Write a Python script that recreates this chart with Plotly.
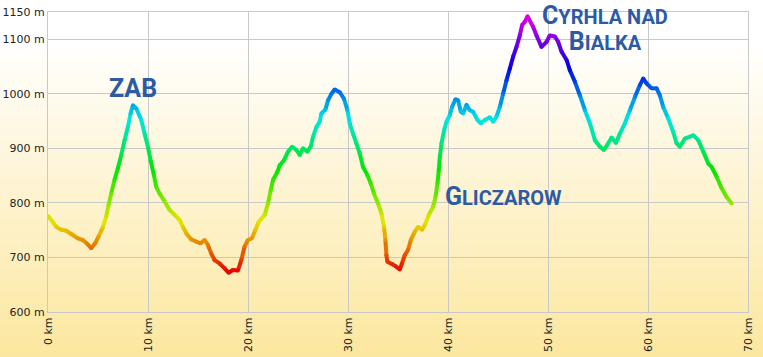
import base64, struct, zlib, colorsys
import plotly.graph_objects as go

# ---------------- data ----------------
dist_km = [0.0, 0.48, 0.82, 1.32, 1.82, 2.32, 2.98, 3.48, 3.92, 4.32, 4.72, 5.05, 5.48, 5.82,
           6.05, 6.32, 6.65, 6.98, 7.33, 7.66, 7.99, 8.26, 8.49, 8.83, 9.33, 9.66, 9.99, 10.26,
           10.59, 10.83, 11.16, 11.59, 12.16, 12.66, 13.16, 13.49, 13.83, 14.33, 14.83, 15.26,
           15.66, 15.99, 16.33, 16.66, 17.16, 17.66, 18.06, 18.49, 18.99, 19.33, 19.66, 19.99,
           20.39, 20.73, 21.06, 21.67, 22.00, 22.27, 22.50, 22.94, 23.17, 23.60, 24.00, 24.40,
           24.84, 25.17, 25.50, 25.94, 26.27, 26.50, 26.84, 27.17, 27.34, 27.74, 28.00, 28.34,
           28.67, 29.17, 29.60, 29.94, 30.17, 30.50, 30.84, 31.17, 31.50, 31.94, 32.27, 32.60,
           33.00, 33.34, 33.60, 33.74, 33.84, 33.94, 34.40, 34.84, 35.17, 35.40, 35.67, 36.01,
           36.28, 36.68, 37.01, 37.41, 37.75, 38.08, 38.51, 38.75, 38.95, 39.08, 39.18, 39.35,
           39.61, 39.85, 40.18, 40.41, 40.75, 41.01, 41.28, 41.51, 41.85, 42.18, 42.51, 42.95,
           43.28, 43.68, 44.18, 44.51, 44.85, 45.18, 45.51, 45.85, 46.18, 46.51, 46.85, 47.18,
           47.41, 47.68, 47.95, 48.51, 48.85, 49.35, 49.85, 50.18, 50.69, 51.02, 51.36, 51.86,
           52.19, 52.69, 53.19, 53.69, 54.19, 54.69, 55.19, 55.59, 55.92, 56.36, 56.79, 57.19,
           57.69, 58.19, 58.69, 59.19, 59.52, 59.86, 60.36, 60.86, 61.19, 61.52, 62.02, 62.52,
           62.86, 63.19, 63.69, 64.52, 65.03, 65.53, 66.03, 66.36, 66.86, 67.36, 67.86, 68.36]
elev_m = [776, 765, 756, 751, 749, 743, 735, 732, 725, 717, 726, 738, 755, 775,
          796, 817, 842, 863, 888, 915, 939, 964, 979, 973, 952, 927, 903, 878,
          851, 829, 817, 805, 787, 778, 769, 756, 744, 733, 729, 726,
          732, 723, 707, 695, 689, 680, 672, 677, 676, 695, 720, 732,
          735, 750, 765, 778, 799, 823, 842, 857, 869, 878, 894, 903,
          897, 888, 900, 894, 903, 921, 939, 949, 964, 971, 988, 1000,
          1008, 1003, 991, 970, 946, 927, 909, 891, 866, 851, 836, 817,
          799, 781, 756, 732, 704, 692, 688, 683, 678, 689, 704, 714,
          732, 747, 756, 751, 762, 778, 793, 811, 836, 860, 884, 909,
          933, 949, 961, 976, 990, 988, 967, 964, 980, 970, 967, 952,
          946, 952, 957, 949, 958, 976, 1000, 1025, 1046, 1068, 1086, 1107,
          1126, 1132, 1142, 1123, 1107, 1086, 1095, 1107, 1105, 1095, 1077, 1062,
          1043, 1022, 997, 970, 946, 915, 903, 897, 906, 920, 910, 927,
          946, 970, 994, 1016, 1028, 1019, 1010, 1010, 997, 976, 955, 930,
          909, 903, 918, 924, 915, 894, 872, 866, 848, 827, 811, 799]

x_ticks = [0, 10, 20, 30, 40, 50, 60, 70]
x_labels = ["0 km", "10 km", "20 km", "30 km", "40 km", "50 km", "60 km", "70 km"]
y_ticks = [600, 700, 800, 900, 1000, 1100, 1150]
y_labels = ["600 m", "700 m", "800 m", "900 m", "1000 m", "1100 m", "1150 m"]

place_names = ["ZAB", "GLICZAROW", "CYRHLA NAD|BIALKA"]
place_km = [8.45, 45.5, 55.7]
place_m = [1009, 812, 1119]

# ---------------- helpers ----------------
EMIN, EMAX = min(elev_m), max(elev_m)


def elev_color(e):
    t = (e - EMIN) / (EMAX - EMIN)
    r, g, b = colorsys.hsv_to_rgb(t * 300 / 360.0, 1.0, 0.9)
    return "rgb(%d,%d,%d)" % (round(r * 255), round(g * 255), round(b * 255))


def gradient_png(w, h):
    top = (255, 255, 255)
    bot = (252, 231, 158)
    rows = []
    for y in range(h):
        t = min(max((y - 40) / (h - 40), 0), 1)
        c = bytes(round(top[i] * (1 - t) + bot[i] * t) for i in range(3))
        rows.append(b"\x00" + c * w)
    raw = b"".join(rows)

    def chunk(tag, data):
        return (struct.pack(">I", len(data)) + tag + data +
                struct.pack(">I", zlib.crc32(tag + data) & 0xFFFFFFFF))

    png = (b"\x89PNG\r\n\x1a\n" +
           chunk(b"IHDR", struct.pack(">IIBBBBB", w, h, 8, 2, 0, 0, 0)) +
           chunk(b"IDAT", zlib.compress(raw)) + chunk(b"IEND", b""))
    return "data:image/png;base64," + base64.b64encode(png).decode()


W, H = 763, 357
ML, MR, MT, MB = 48, 15, 12, 45
PW, PH = W - ML - MR, H - MT - MB

fig = go.Figure()

for i in range(len(dist_km) - 1):
    col = elev_color((elev_m[i] + elev_m[i + 1]) / 2)
    fig.add_trace(go.Scatter(x=[dist_km[i], dist_km[i + 1]], y=[elev_m[i], elev_m[i + 1]],
                             mode="lines", line=dict(color=col, width=4),
                             hoverinfo="skip", showlegend=False))
fig.add_trace(go.Scatter(x=dist_km, y=elev_m, mode="markers",
                         marker=dict(size=4, color=[elev_color(e) for e in elev_m], line=dict(width=0)),
                         hoverinfo="skip", showlegend=False))

FONT = "Roboto, DejaVu Sans Condensed, sans-serif"
BLUE = "#2c5ba3"
BIG, SMALL = 25, 20


def smallcaps(text):
    lines = []
    for line in text.split("|"):
        words = []
        for w in line.split(" "):
            words.append("<span style='font-size:%dpx'>%s</span>%s" % (BIG, w[0], w[1:]))
        lines.append("<b>" + " ".join(words) + "</b>")
    return "<br>".join(lines)


texts = ["<b>%s</b>" % place_names[0], smallcaps(place_names[1]),
         smallcaps(place_names[2]).replace("<span style='font-size:%dpx'>N</span>" % BIG, "N")]
sizes = [BIG, SMALL, SMALL]
for t, xk, ym, s in zip(texts, place_km, place_m, sizes):
    fig.add_annotation(x=xk, y=ym, text=t, showarrow=False, xanchor="center", yanchor="middle",
                       font=dict(family=FONT, size=s, color=BLUE))

fig.add_layout_image(dict(source=gradient_png(2, H), xref="paper", yref="paper",
                          x=-ML / PW, y=1 + MT / PH, sizex=W / PW, sizey=H / PH,
                          xanchor="left", yanchor="top", sizing="stretch", layer="below"))

GRID = "#c8c8c8"
fig.update_layout(
    width=W, height=H, margin=dict(l=ML, r=MR, t=MT, b=MB, pad=0, autoexpand=False),
    paper_bgcolor="white", plot_bgcolor="rgba(0,0,0,0)",
    font=dict(family="DejaVu Sans, Verdana, sans-serif", size=11, color="#222222"),
    xaxis=dict(range=[0, 70], tickvals=x_ticks, ticktext=x_labels, tickangle=-90,
               showgrid=True, gridcolor=GRID, gridwidth=1, zeroline=False, automargin=False,
               showline=True, linecolor=GRID, linewidth=1, mirror=True, ticks=""),
    yaxis=dict(range=[600, 1150], tickvals=y_ticks, ticktext=y_labels, automargin=False,
               showgrid=True, gridcolor=GRID, gridwidth=1, zeroline=False,
               showline=True, linecolor=GRID, linewidth=1, mirror=True, ticks=""),
)

fig.write_html("out.html", config={"displayModeBar": False},
               post_script="document.body.style.margin='0';document.body.style.overflow='hidden';")
